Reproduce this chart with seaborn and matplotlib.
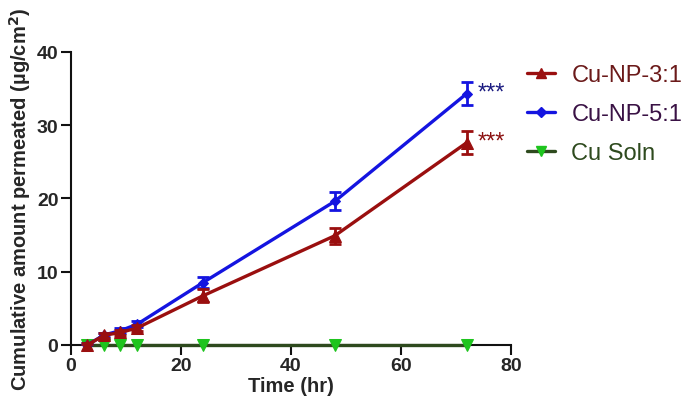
import matplotlib.pyplot as plt
import pandas as pd
import seaborn as sns

sns.set_theme(style="ticks")
plt.rcParams["font.family"] = ["Liberation Sans", "DejaVu Sans"]

# Permeation data (hr vs cumulative amount, ug/cm2)
time_hr = [3, 6, 9, 12, 24, 48, 72]
np31_mean = [0.0, 1.3, 1.7, 2.3, 6.7, 14.9, 27.6]
np31_sd = [0.2, 0.3, 0.3, 0.4, 0.9, 1.1, 1.6]
np51_mean = [0.0, 1.35, 1.95, 2.8, 8.5, 19.6, 34.3]
np51_sd = [0.2, 0.3, 0.3, 0.4, 0.8, 1.2, 1.6]
soln_mean = [0.0, 0.0, 0.0, 0.0, 0.0, 0.0, 0.0]
soln_sd = [0.0, 0.0, 0.0, 0.0, 0.0, 0.0, 0.0]

series = [
    # name, means, sds, line colour, marker, marker colour, text colour
    ("Cu Soln", soln_mean, soln_sd, "#2e4a1e", "v", "#1ec41e", "#2e4a1e"),
    ("Cu-NP-5:1", np51_mean, np51_sd, "#1414e0", "D", "#1414e0", "#3a1245"),
    ("Cu-NP-3:1", np31_mean, np31_sd, "#9a0f0f", "^", "#9a0f0f", "#6b1a1a"),
]

fig = plt.figure(figsize=(6.85, 4.06), dpi=100)
ax = fig.add_axes([0.1036, 0.148, 0.642, 0.722])

handles = {}
for name, mean, sd, col, mk, mcol, tcol in series:
    df = pd.DataFrame({"time": time_hr, "value": mean})
    ms = 8 if mk != "D" else 5
    sns.lineplot(data=df, x="time", y="value", ax=ax, color=col, linewidth=2.4,
                 marker=mk, markersize=ms, markerfacecolor=mcol,
                 markeredgecolor=mcol, clip_on=False, zorder=3)
    if any(s > 0 for s in sd):
        ax.errorbar(time_hr, mean, yerr=sd, fmt="none", ecolor=col, elinewidth=2,
                    capsize=4, capthick=2, zorder=3)
    handles[name] = plt.Line2D([], [], color=col, linewidth=2.4, marker=mk,
                               markersize=7 if mk != "D" else 5,
                               markerfacecolor=mcol, markeredgecolor=mcol)

# significance stars
ax.text(74, np51_mean[-1] + 0.1, "***", color="#1a1a80", fontsize=17,
        va="center", ha="left")
ax.text(74, np31_mean[-1] + 0.1, "***", color="#8b1010", fontsize=17,
        va="center", ha="left")

ax.set_xlim(0, 80)
ax.set_ylim(0, 40)
ax.set_xticks([0, 20, 40, 60, 80])
ax.set_yticks([0, 10, 20, 30, 40])
ax.set_xlabel("Time (hr)", fontsize=14.5, fontweight="bold", labelpad=1)
ax.set_ylabel("Cumulative amount permeated (µg/cm$^\\mathbf{2}$)", fontsize=14.5,
              fontweight="bold", labelpad=3)
for lab in ax.get_xticklabels() + ax.get_yticklabels():
    lab.set_fontweight("bold")
ax.tick_params(axis="both", labelsize=14, width=1.5, length=7, color="#111111", pad=2)
for side in ["top", "right"]:
    ax.spines[side].set_visible(False)
for side in ["left", "bottom"]:
    ax.spines[side].set_linewidth(1.5)
    ax.spines[side].set_color("#111111")

order = ["Cu-NP-3:1", "Cu-NP-5:1", "Cu Soln"]
text_colors = {s[0]: s[6] for s in series}
leg = ax.legend([handles[n] for n in order], order, loc="upper left",
                bbox_to_anchor=(1.036, 0.958), frameon=False, fontsize=17,
                handlelength=1.2, labelspacing=0.72, handletextpad=0.7,
                borderpad=0, borderaxespad=0)
for txt, n in zip(leg.get_texts(), order):
    txt.set_color(text_colors[n])

fig.savefig("out.png", dpi=100)
